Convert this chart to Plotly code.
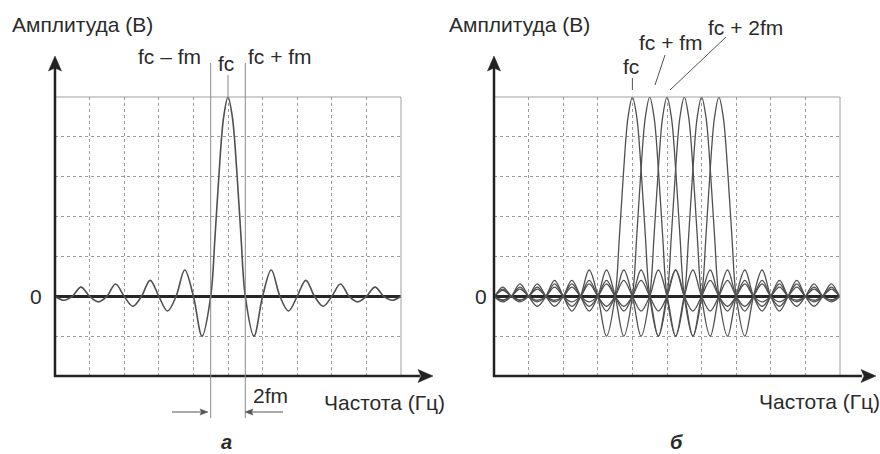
import plotly.graph_objects as go

W, H = 880, 454

# One spectral lobe, half profile: offset from its carrier (in multiples of fm)
# and amplitude (grid units, zero line = 0, top of grid = 5)
lobe_offset = [0, 0.25, 0.5, 0.75, 1, 1.5, 2, 2.5, 3, 3.5, 4, 4.5, 5, 5.5, 6, 6.5,
               7, 7.5, 8, 8.5, 9, 9.5, 10, 10.5, 11, 11.5, 12, 12.5, 13, 13.5]
lobe_amp = [5.0, 4.5, 3.2, 1.5, 0, -1.0, 0, 0.66, 0, -0.37, 0, 0.40, 0, -0.25, 0, 0.31,
            0, -0.14, 0, 0.23, 0, -0.10, 0, 0.18, 0, -0.09, 0, 0.15, 0, -0.08]

fm = 0.5                                     # grid units per fm
carriers_a = [5.0]                           # panel "а": single carrier fc
carriers_b = [4.0, 4.5, 5.0, 5.5, 6.0, 6.5]  # panel "б": fc, fc+fm, ... fc+5fm

FONT = "Liberation Sans, Arial, sans-serif"
TXT = "#2b2b2b"
CURVE = "#505050"


def px(x):
    return x / W


def py(y):
    return 1 - y / H


def lobe(fc):
    offs = [-o for o in reversed(lobe_offset[1:])] + lobe_offset
    amps = list(reversed(lobe_amp[1:])) + lobe_amp
    return [fc + fm * o for o in offs], amps


fig = go.Figure()

for fc in carriers_a:
    xs, ys = lobe(fc)
    fig.add_trace(go.Scatter(x=xs, y=ys, mode="lines", xaxis="x", yaxis="y",
                             line=dict(color=CURVE, width=1.6, shape="spline", smoothing=1.0),
                             showlegend=False, hoverinfo="skip"))
for fc in carriers_b:
    xs, ys = lobe(fc)
    fig.add_trace(go.Scatter(x=xs, y=ys, mode="lines", xaxis="x2", yaxis="y2",
                             line=dict(color=CURVE, width=1.3, shape="spline", smoothing=1.0),
                             showlegend=False, hoverinfo="skip"))

ydom = [py(376), py(97)]
xa = dict(range=[0, 10], dtick=1, tick0=0, showgrid=True, gridcolor="#9c9c9c",
          griddash="dot", gridwidth=1, zeroline=False, showticklabels=False,
          ticks="", showline=False, fixedrange=True)
ya = dict(range=[-2, 5], dtick=1, tick0=0, showgrid=True, gridcolor="#9c9c9c",
          griddash="dot", gridwidth=1, zeroline=True, zerolinecolor="#262626",
          zerolinewidth=2.6, showticklabels=False, ticks="", showline=False,
          fixedrange=True, domain=ydom)

shapes = []
annotations = []


def seg(x0, y0, x1, y1, color="#222", width=2.5, xref="paper"):
    shapes.append(dict(type="line", xref=xref, yref="paper",
                       x0=x0, y0=y0, x1=x1, y1=y1,
                       line=dict(color=color, width=width)))


def head(tx, ty, dx, dy, length, half, color="#222", notch=3):
    # filled arrowhead, tip at pixel (tx, ty), pointing along (dx, dy)
    nx, ny = -dy, dx
    bx, by = tx - dx * length, ty - dy * length
    p1 = (bx + nx * half, by + ny * half)
    p2 = (bx - nx * half, by - ny * half)
    pm = (bx + dx * notch, by + dy * notch)
    pts = [(tx, ty), p1, pm, p2]
    path = "M " + " L ".join(f"{px(a):.5f},{py(b):.5f}" for a, b in pts) + " Z"
    shapes.append(dict(type="path", xref="paper", yref="paper", path=path,
                       fillcolor=color, line=dict(color=color, width=0.5)))


def text(s, x, y, xanchor="center", yanchor="middle", size=21, **kw):
    annotations.append(dict(text=s, x=px(x), y=py(y), xref="paper", yref="paper",
                            xanchor=xanchor, yanchor=yanchor, showarrow=False,
                            font=dict(family=FONT, size=size, color=TXT), **kw))


for xr, yr in (("x", "y"), ("x2", "y2")):
    # grid frame (top and right)
    shapes.append(dict(type="line", xref=f"{xr} domain", yref=f"{yr} domain",
                       x0=0, y0=1, x1=1, y1=1, line=dict(color="#a0a0a0", width=1)))
    shapes.append(dict(type="line", xref=f"{xr} domain", yref=f"{yr} domain",
                       x0=1, y0=0, x1=1, y1=1, line=dict(color="#a0a0a0", width=1)))

# axes with arrows
seg(px(55), py(377), px(55), py(68))
head(55, 56, 0, -1, 15, 6.5)
seg(px(54), py(376), px(420), py(376))
head(433, 376, 1, 0, 15, 6.5)
seg(px(494), py(377), px(494), py(68))
head(494, 56, 0, -1, 15, 6.5)
seg(px(493), py(376), px(862), py(376))
head(876, 376, 1, 0, 15, 6.5)

# panel "а": side-frequency markers and fc marker
fc_a = carriers_a[0]
for xv in (fc_a - fm, fc_a + fm):
    shapes.append(dict(type="line", xref="x", yref="paper", x0=xv, x1=xv,
                       y0=py(63), y1=py(418), line=dict(color="#8a8a8a", width=1)))
shapes.append(dict(type="line", xref="x", yref="paper", x0=fc_a, x1=fc_a,
                   y0=py(75), y1=py(97), line=dict(color="#8a8a8a", width=1)))
# 2fm width arrows
seg(px(172), py(412), px(203), py(412), color="#555", width=1)
head(208, 412, 1, 0, 8, 3, color="#555", notch=1.5)
seg(px(283), py(412), px(250), py(412), color="#555", width=1)
head(245, 412, -1, 0, 8, 3, color="#555", notch=1.5)

# panel "б": pointers to the first three lobes
shapes.append(dict(type="line", xref="x2", yref="paper", x0=carriers_b[0], x1=carriers_b[0],
                   y0=py(78), y1=py(90), line=dict(color="#555", width=1)))
seg(px(665), py(55), px(655), py(85), color="#555", width=1)
seg(px(726), py(37), px(670), py(90), color="#555", width=1)

# labels
text("Амплитуда (В)", 10, 25, xanchor="left")
text("Амплитуда (В)", 447, 25, xanchor="left")
text("fc – fm", 169, 57)
text("fc", 226, 64)
text("fc + fm", 280, 57)
text("0", 36, 296)
text("0", 481, 296)
text("2fm", 270, 395)
text("Частота (Гц)", 322, 402, xanchor="left")
text("Частота (Гц)", 757, 401, xanchor="left")
text("<b><i>а</i></b>", 227, 454, yanchor="bottom", size=20, borderpad=0)
text("<b><i>б</i></b>", 676, 454, yanchor="bottom", size=20, borderpad=0)
text("fc", 631, 66)
text("fc + fm", 671, 42)
text("fc + 2fm", 745, 27)

fig.update_layout(
    width=W, height=H,
    margin=dict(l=0, r=0, t=0, b=0),
    paper_bgcolor="white", plot_bgcolor="white",
    xaxis=dict(xa, domain=[px(55), px(401)], anchor="y"),
    yaxis=dict(ya, anchor="x"),
    xaxis2=dict(xa, domain=[px(494), px(840)], anchor="y2"),
    yaxis2=dict(ya, anchor="x2"),
    shapes=shapes,
    annotations=annotations,
    showlegend=False,
)

fig.write_html("out.html")
